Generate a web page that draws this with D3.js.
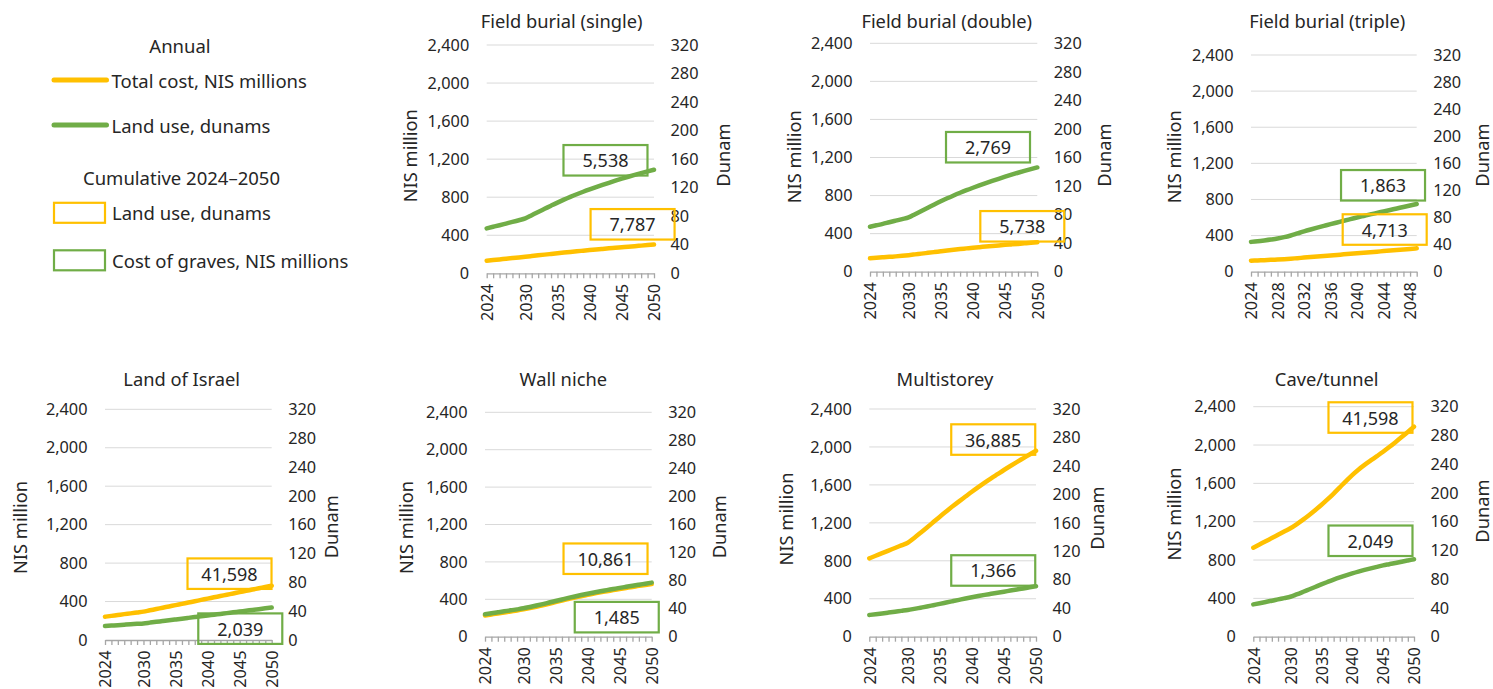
<!DOCTYPE html>
<html>
<head>
<meta charset="utf-8">
<script src="https://cdn.jsdelivr.net/npm/d3@7"></script>
<style>
  body { margin: 0; background: #ffffff; }
  svg { display: block; }
  text { font-family: "Noto Sans", sans-serif; fill: #262626; }
</style>
</head>
<body>
<svg id="chart" width="1493" height="689"></svg>
<script>
// ---- categories and tick labels ----
const years = [2024, 2025, 2026, 2027, 2028, 2029, 2030, 2031, 2032, 2033, 2034, 2035, 2036, 2037,
               2038, 2039, 2040, 2041, 2042, 2043, 2044, 2045, 2046, 2047, 2048, 2049, 2050];
const yearsTriple = [2024, 2025, 2026, 2027, 2028, 2029, 2030, 2031, 2032, 2033, 2034, 2035, 2036,
                     2037, 2038, 2039, 2040, 2041, 2042, 2043, 2044, 2045, 2046, 2047, 2048, 2049];
const yearLabels = [2024, 2030, 2035, 2040, 2045, 2050];
const yearLabelsTriple = [2024, 2028, 2032, 2036, 2040, 2044, 2048];
const costTicks = [0, 400, 800, 1200, 1600, 2000, 2400];
const landTicks = [0, 40, 80, 120, 160, 200, 240, 280, 320];

const panelTitles = ["Field burial (single)", "Field burial (double)", "Field burial (triple)",
                     "Land of Israel", "Wall niche", "Multistorey", "Cave/tunnel"];

// ---- annual total cost, NIS millions (left axis) ----
const costSingle = [132, 139, 146, 153, 160, 167, 174, 181.5, 188.9, 196.2, 203.4, 210.5, 217.5, 224.4,
                    231.2, 237.8, 244.2, 250.4, 256.4, 262.3, 268.1, 273.8, 279.5, 285.2, 291, 296.8, 302.6];
const costDouble = [141, 146, 151, 156, 161, 167, 174, 182, 190, 198, 206, 214, 222, 230,
                    238, 245, 252, 258, 264, 270, 276, 282, 287, 292, 298, 304, 309];
const costTriple = [122, 125, 128, 131, 135, 139, 144, 150, 156, 162, 168, 174, 180,
                    186, 192, 198, 204, 210, 216, 222, 228, 234, 240, 246, 252, 259];
const costIsrael = [242, 251, 260, 269, 277, 286, 295, 309, 322, 336, 349, 363, 376, 390,
                    403, 417, 430, 444, 457, 471, 484, 498, 511, 525, 538, 552, 565];
const costNiche = [227, 238, 249, 259, 270, 280, 292, 306, 321, 337, 353, 370, 386, 403,
                   418, 433, 448, 461, 474, 486, 498, 510, 521, 532, 544, 554, 563];
const costMulti = [826, 853, 880, 908, 935, 963, 991, 1041, 1095, 1151, 1208, 1265, 1320, 1374,
                   1426, 1477, 1528, 1576, 1623, 1669, 1713, 1757, 1799, 1840, 1880, 1920, 1960];
const costCave = [929, 962, 996, 1029, 1063, 1097, 1131, 1173, 1219, 1268, 1320, 1374, 1432, 1494,
                  1559, 1624, 1687, 1743, 1793, 1839, 1884, 1930, 1979, 2030, 2083, 2137, 2191];

// ---- annual land use, dunams (right axis) ----
const landSingle = [63, 65.2, 67.4, 69.7, 72, 74.4, 77, 81.5, 86, 90.4, 94.8, 99.1, 103.2, 107.1,
                    110.8, 114.3, 117.6, 120.8, 123.9, 126.9, 129.8, 132.6, 135.3, 137.9, 140.4, 142.8, 145.1];
const landDouble = [63, 65, 67, 69.3, 71.5, 73.7, 76, 80.6, 85.2, 89.7, 94.2, 98.6, 102.8, 106.8,
                    110.6, 114.2, 117.6, 120.9, 124.1, 127.2, 130.2, 133.1, 135.9, 138.6, 141.2, 143.7, 146.1];
const landTriple = [44, 45, 46.2, 47.5, 49, 51, 53.5, 56.5, 59.5, 62.3, 65, 67.6, 70.2,
                    72.7, 75.2, 77.6, 80, 82.3, 84.6, 86.8, 89, 91.2, 93.4, 95.6, 97.8, 100];
const landIsrael = [19.4, 20, 20.6, 21.2, 21.8, 22.4, 23, 24.1, 25.2, 26.3, 27.4, 28.5, 29.6, 30.7,
                    31.8, 32.9, 34, 35.1, 36.2, 37.3, 38.4, 39.5, 40.6, 41.7, 42.8, 43.9, 45];
const landNiche = [32, 33.4, 34.8, 36.2, 37.6, 39, 40.5, 42.4, 44.4, 46.5, 48.7, 50.9, 53.1, 55.3,
                   57.4, 59.4, 61.3, 63.1, 64.8, 66.4, 68, 69.6, 71.1, 72.6, 74.1, 75.6, 77.1];
const landMulti = [30.5, 31.6, 32.7, 33.9, 35.1, 36.3, 37.5, 39.1, 40.8, 42.5, 44.3, 46.1, 48, 49.9,
                   51.8, 53.7, 55.5, 57.2, 58.8, 60.3, 61.8, 63.3, 64.8, 66.3, 67.8, 69.4, 71];
const landCave = [45, 46.6, 48.3, 50, 51.9, 53.7, 55.6, 58.8, 62.2, 65.7, 69.2, 72.7, 76.1, 79.4,
                  82.5, 85.4, 88.1, 90.6, 92.9, 95.1, 97.2, 99.2, 100.9, 102.6, 104.3, 106, 107.7];

// ---- cumulative 2024–2050 callouts ----
const cumulativeYellow = [7787, 5738, 4713, 41598, 10861, 36885, 41598];
const cumulativeGreen  = [5538, 2769, 1863, 2039, 1485, 1366, 2049];

const panelYears = [years, years, yearsTriple, years, years, years, years];
const panelYearLabels = [yearLabels, yearLabels, yearLabelsTriple, yearLabels, yearLabels, yearLabels, yearLabels];
const panelCost = [costSingle, costDouble, costTriple, costIsrael, costNiche, costMulti, costCave];
const panelLand = [landSingle, landDouble, landTriple, landIsrael, landNiche, landMulti, landCave];

// ---- layout of each small chart (plot frame, axis titles, callout anchors in data units) ----
const layout = [
  { left: 486.7, right: 654.0, top: 45.0, bottom: 273.3, titleX: 561.7, titleY: 20.7,
    nisX: 409.3, nisY: 155.7, dunX: 722.7, dunY: 155,
    yBox: { year: 2046.67, cost: 515 }, gBox: { year: 2042.46, cost: 1188 } },
  { left: 870.0, right: 1037.3, top: 43.3, bottom: 271.7, titleX: 946.7, titleY: 20.7,
    nisX: 793.3, nisY: 156.7, dunX: 1103.3, dunY: 155,
    yBox: { year: 2047.67, cost: 477 }, gBox: { year: 2042.34, cost: 1308 } },
  { left: 1251.0, right: 1416.7, top: 55.0, bottom: 271.7, titleX: 1327.3, titleY: 20.7,
    nisX: 1173.3, nisY: 156.7, dunX: 1481.5, dunY: 155,
    yBox: { year: 2044.17, cost: 467 }, gBox: { year: 2043.92, cost: 957 } },
  { left: 105.0, right: 271.7, top: 409.3, bottom: 640.0, titleX: 181.7, titleY: 378.3,
    nisX: 19.3, nisY: 527.5, dunX: 330, dunY: 526.7,
    yBox: { year: 2043.42, cost: 690 }, gBox: { year: 2045.1, cost: 118 } },
  { left: 485.0, right: 651.7, top: 412.3, bottom: 636.7, titleX: 563.3, titleY: 378.3,
    nisX: 405, nisY: 527.5, dunX: 718.3, dunY: 526.7,
    yBox: { year: 2042.8, cost: 834 }, gBox: { year: 2044.55, cost: 209 } },
  { left: 869.3, right: 1036.0, top: 409.0, bottom: 636.7, titleX: 945, titleY: 378.3,
    nisX: 785, nisY: 519, dunX: 1096.7, dunY: 518,
    yBox: { year: 2043.33, cost: 2078 }, gBox: { year: 2043.33, cost: 698 } },
  { left: 1253.3, right: 1414.0, top: 406.7, bottom: 636.7, titleX: 1326.7, titleY: 378.3,
    nisX: 1173.3, nisY: 514, dunX: 1481.5, dunY: 511,
    yBox: { year: 2042.96, cost: 2287 }, gBox: { year: 2042.96, cost: 1001 } }
];

const YELLOW = "#FFC000";
const GREEN = "#70AD47";
const GRID = "#d9d9d9";
const AXIS = "#a6a6a6";
const fmt = d3.format(",");
const BOX_W = 84, BOX_H = 30.5;
const TICK_FONT = "16.3px";

const svg = d3.select("#chart");

panelTitles.forEach((title, i) => {
  const L = layout[i];
  const cats = panelYears[i];
  const labelSet = new Set(panelYearLabels[i]);
  const g = svg.append("g");

  const x = d3.scalePoint().domain(cats).range([L.left, L.right]).padding(0);
  const xLin = d3.scaleLinear().domain([cats[0], cats[cats.length - 1]]).range([L.left, L.right]);
  const yCost = d3.scaleLinear().domain([0, 2400]).range([L.bottom, L.top]);
  const yLand = d3.scaleLinear().domain([0, 320]).range([L.bottom, L.top]);

  // horizontal gridlines
  g.append("g").selectAll("line")
    .data(costTicks.filter(t => t > 0))
    .join("line")
    .attr("x1", L.left).attr("x2", L.right)
    .attr("y1", d => yCost(d)).attr("y2", d => yCost(d))
    .attr("stroke", GRID).attr("stroke-width", 1);

  // left axis labels
  const leftAxis = d3.axisLeft(yCost).tickValues(costTicks).tickSize(0).tickPadding(17.5).tickFormat(fmt);
  const la = g.append("g").attr("transform", `translate(${L.left},0)`).call(leftAxis);
  la.select(".domain").remove();
  la.selectAll("text").style("font-size", TICK_FONT).attr("fill", "#262626")
    .style("font-family", '"Noto Sans", sans-serif');

  // right axis labels
  const rightAxis = d3.axisRight(yLand).tickValues(landTicks).tickSize(0).tickPadding(16.5).tickFormat(fmt);
  const ra = g.append("g").attr("transform", `translate(${L.right},0)`).call(rightAxis);
  ra.select(".domain").remove();
  ra.selectAll("text").style("font-size", TICK_FONT).attr("fill", "#262626")
    .style("font-family", '"Noto Sans", sans-serif');

  // category axis with a tick per year, rotated year labels
  const bottomAxis = d3.axisBottom(x).tickSize(5).tickSizeOuter(0)
    .tickFormat(d => labelSet.has(d) ? String(d) : "");
  const ba = g.append("g").attr("transform", `translate(0,${L.bottom})`).call(bottomAxis);
  ba.select(".domain").attr("stroke", AXIS).attr("stroke-width", 1.3);
  ba.selectAll(".tick line").attr("stroke", AXIS).attr("stroke-width", 1.3);
  ba.selectAll("text")
    .attr("transform", "rotate(-90)")
    .attr("text-anchor", "end")
    .attr("x", -10.5).attr("y", 0).attr("dy", "0.35em")
    .style("font-size", TICK_FONT).attr("fill", "#262626")
    .style("font-family", '"Noto Sans", sans-serif');

  // annual series
  const costLine = d3.line().curve(d3.curveMonotoneX).x((d, k) => x(cats[k])).y(d => yCost(d));
  const landLine = d3.line().curve(d3.curveMonotoneX).x((d, k) => x(cats[k])).y(d => yLand(d));
  g.append("path").datum(panelCost[i]).attr("d", costLine)
    .attr("fill", "none").attr("stroke", YELLOW).attr("stroke-width", 4.5)
    .attr("stroke-linejoin", "round").attr("stroke-linecap", "round");
  g.append("path").datum(panelLand[i]).attr("d", landLine)
    .attr("fill", "none").attr("stroke", GREEN).attr("stroke-width", 4.5)
    .attr("stroke-linejoin", "round").attr("stroke-linecap", "round");

  // cumulative callouts
  const boxes = [
    { anchor: L.yBox, color: YELLOW, value: cumulativeYellow[i] },
    { anchor: L.gBox, color: GREEN, value: cumulativeGreen[i] }
  ];
  boxes.forEach(b => {
    const cx = xLin(b.anchor.year), cy = yCost(b.anchor.cost);
    g.append("rect")
      .attr("x", cx - BOX_W / 2).attr("y", cy - BOX_H / 2)
      .attr("width", BOX_W).attr("height", BOX_H)
      .attr("fill", "none").attr("stroke", b.color).attr("stroke-width", 2.2);
    g.append("text")
      .attr("x", cx).attr("y", cy)
      .attr("text-anchor", "middle").attr("dominant-baseline", "central")
      .style("font-size", "18px")
      .text(fmt(b.value));
  });

  // titles
  g.append("text").attr("x", L.titleX).attr("y", L.titleY)
    .attr("text-anchor", "middle").attr("dominant-baseline", "central")
    .style("font-size", "18.3px").text(title);
  g.append("text")
    .attr("transform", `translate(${L.nisX},${L.nisY}) rotate(-90)`)
    .attr("text-anchor", "middle").attr("dominant-baseline", "central")
    .style("font-size", "18.3px").text("NIS million");
  g.append("text")
    .attr("transform", `translate(${L.dunX},${L.dunY}) rotate(-90)`)
    .attr("text-anchor", "middle").attr("dominant-baseline", "central")
    .style("font-size", "18.3px").text("Dunam");
});

// ---- legend ----
const LEGEND_FONT = "18.5px";
const lg = svg.append("g");
lg.append("text").attr("x", 180).attr("y", 45).attr("text-anchor", "middle")
  .attr("dominant-baseline", "central").style("font-size", LEGEND_FONT).text("Annual");
const annualItems = [
  { color: YELLOW, label: "Total cost, NIS millions", y: 80 },
  { color: GREEN, label: "Land use, dunams", y: 125 }
];
annualItems.forEach(it => {
  lg.append("line").attr("x1", 54).attr("x2", 106.5).attr("y1", it.y).attr("y2", it.y)
    .attr("stroke", it.color).attr("stroke-width", 5).attr("stroke-linecap", "round");
  lg.append("text").attr("x", 111.5).attr("y", it.y).attr("dominant-baseline", "central")
    .style("font-size", LEGEND_FONT).text(it.label);
});
lg.append("text").attr("x", 181.5).attr("y", 177).attr("text-anchor", "middle")
  .attr("dominant-baseline", "central").style("font-size", LEGEND_FONT).text("Cumulative 2024–2050");
const cumItems = [
  { color: YELLOW, label: "Land use, dunams", y: 212.8 },
  { color: GREEN, label: "Cost of graves, NIS millions", y: 260.3 }
];
cumItems.forEach(it => {
  lg.append("rect").attr("x", 54).attr("y", it.y - 10).attr("width", 51).attr("height", 20)
    .attr("fill", "none").attr("stroke", it.color).attr("stroke-width", 2.2);
  lg.append("text").attr("x", 112).attr("y", it.y).attr("dominant-baseline", "central")
    .style("font-size", LEGEND_FONT).text(it.label);
});
</script>
</body>
</html>
